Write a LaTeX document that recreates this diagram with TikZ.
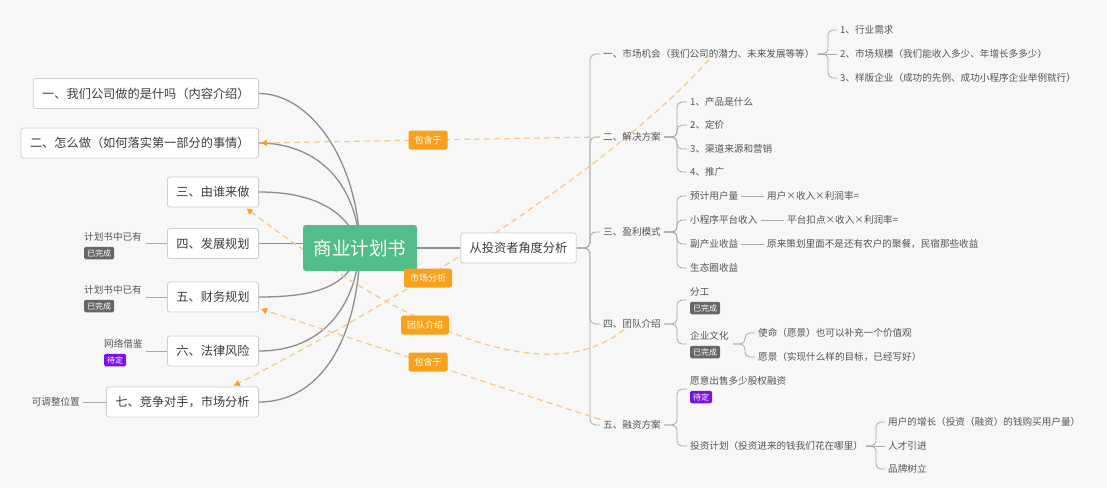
\documentclass[tikz,border=0pt]{standalone}
\usepackage{fontspec}
\setmainfont{Noto Sans CJK SC}
\usetikzlibrary{arrows.meta,calc}
\pgfdeclarelayer{back}
\pgfdeclarelayer{lines}
\pgfsetlayers{back,lines,main}
\definecolor{bgc}{HTML}{F7F7F7}
\definecolor{boxline}{HTML}{CFCFCF}
\definecolor{boxtext}{HTML}{3C3C3C}
\definecolor{mainline}{HTML}{8E8E8E}
\definecolor{subline}{HTML}{A8A8A8}
\definecolor{subtext}{HTML}{555555}
\definecolor{cgreen}{HTML}{52BD89}
\definecolor{corange}{HTML}{F9A11B}
\definecolor{reline}{HTML}{F8C78A}
\definecolor{donec}{HTML}{666666}
\definecolor{pendc}{HTML}{7A12E6}
\tikzset{
  box/.style={draw=boxline, line width=0.8pt, fill=white, rounded corners=2.5pt, text=boxtext,
    font=\fontsize{12.2}{14}\selectfont, minimum height=30pt, inner xsep=9pt, inner ysep=0pt, anchor=east},
  centre/.style={fill=cgreen, rounded corners=3pt, text=white, font=\fontsize{18.5}{20}\selectfont,
    minimum width=114pt, minimum height=46pt},
  item/.style={text=subtext, font=\fontsize{9.6}{11}\selectfont, inner xsep=3pt, inner ysep=1pt, anchor=west},
  tagdone/.style={fill=donec, text=white, font=\fontsize{8}{9}\selectfont, rounded corners=1.5pt,
    inner xsep=3pt, inner ysep=0pt, minimum height=12.5pt, anchor=west},
  tagpend/.style={tagdone, fill=pendc},
  rellabel/.style={fill=corange, text=white, font=\fontsize{9}{10}\selectfont, rounded corners=2.5pt,
    inner xsep=6pt, inner ysep=0pt, minimum height=19pt},
  rel/.style={draw=reline, line width=1.2pt, dash pattern=on 6pt off 4pt,
    -{Triangle[length=6pt,width=6pt,color=corange,fill=corange]}, shorten >=2pt},
  trunk/.style={draw=mainline, line width=1.3pt},
  twig/.style={draw=subline, line width=0.8pt, rounded corners=5pt}
}
\begin{document}
\begin{tikzpicture}[x=1pt,y=-1pt]
\begin{pgfonlayer}{back}
\fill[bgc] (0,0) rectangle (1107,488);
\end{pgfonlayer}
\useasboundingbox (0,0) rectangle (1107,488);

% centre and left boxes
\node[centre] (C) at (360,248) {商业计划书};
\node[box] (b1) at (259,93.5) {一、我们公司做的是什吗（内容介绍）};
\node[box] (b2) at (259,143) {二、怎么做（如何落实第一部分的事情）};
\node[box] (b3) at (259,192) {三、由谁来做};
\node[box] (b4) at (259,243.5) {四、发展规划};
\node[box] (b5) at (259,297) {五、财务规划};
\node[box] (b6) at (259,351) {六、法律风险};
\node[box] (b7) at (259,402) {七、竞争对手，市场分析};

% left notes
\node[item] (n4t) at (81,237) {计划书中已有};
\node[tagdone] (n4g) at (84,253) {已完成};
\coordinate (n4) at (146,243.5);
\node[item] (n5t) at (81,290) {计划书中已有};
\node[tagdone] (n5g) at (84,306) {已完成};
\coordinate (n5) at (146,297);
\node[item] (n6t) at (101,344) {网络借鉴};
\node[tagpend] (n6g) at (104,360) {待定};
\coordinate (n6) at (146,351);
\node[item, anchor=east] (n7) at (83,402) {可调整位置};

% investor branch
\node[box, anchor=center] (I) at (518.5,248) {从投资者角度分析};
\node[item] (m1) at (600,54) {一、市场机会（我们公司的潜力、未来发展等等）};
\node[item] (m2) at (600,137) {二、解决方案};
\node[item] (m3) at (600,232) {三、盈利模式};
\node[item] (m4) at (600,324) {四、团队介绍};
\node[item] (m5) at (600,425) {五、融资方案};

\node[item] (c11) at (837,30) {1、行业需求};
\node[item] (c12) at (837,54) {2、市场规模（我们能收入多少、年增长多多少）};
\node[item] (c13) at (837,78) {3、样版企业（成功的先例、成功小程序企业举例就行）};

\node[item] (c21) at (687,102) {1、产品是什么};
\node[item] (c22) at (687,125) {2、定价};
\node[item] (c23) at (687,149) {3、渠道来源和营销};
\node[item] (c24) at (687,172) {4、推广};

\node[item] (c31) at (687,196) {预计用户量};
\node[item] (c31a) at (764,196) {用户×收入×利润率=};
\node[item] (c32) at (687,220) {小程序平台收入};
\node[item] (c32a) at (784,220) {平台扣点×收入×利润率=};
\node[item] (c33) at (687,244) {副产业收益};
\node[item] (c33a) at (764,244) {原来策划里面不是还有农户的聚餐，民宿那些收益};
\node[item] (c34) at (687,268) {生态圈收益};

\node[item] (c41) at (687,292) {分工};
\node[tagdone] (c41g) at (690,308) {已完成};
\coordinate (f1) at (687,300);
\node[item] (c42) at (687,336) {企业文化};
\node[tagdone] (c42g) at (690,352) {已完成};
\coordinate (f2) at (687,344);
\coordinate (f2o) at (733,344);
\node[item] (c421) at (755,333) {使命（愿景）也可以补充一个价值观};
\node[item] (c422) at (755,357) {愿景（实现什么样的目标，已经写好）};

\node[item] (c51) at (687,381) {愿意出售多少股权融资};
\node[tagpend] (c51g) at (690,397) {待定};
\coordinate (r1) at (687,389);
\node[item] (c52) at (687,446) {投资计划（投资进来的钱我们花在哪里）};
\node[item] (c521) at (885,422) {用户的增长（投资（融资）的钱购买用户量）};
\node[item] (c522) at (885,446) {人才引进};
\node[item] (c523) at (885,469) {品牌树立};

% relationship labels
\node[rellabel] (L1) at (428,140) {包含于};
\node[rellabel] (L2) at (428,278) {市场分析};
\node[rellabel] (L3) at (425,325) {团队介绍};
\node[rellabel] (L4) at (428,362) {包含于};

\begin{pgfonlayer}{lines}
% centre to left boxes
\draw[trunk] (b1.east) .. controls (310,93.5) and (358,160) .. (C.center);
\draw[trunk] (b2.east) .. controls (310,143) and (356,175) .. (C.center);
\draw[trunk] (b3.east) .. controls (320,192) and (350,215) .. (C.center);
\draw[trunk] (b4.east) -- (b4.east -| C.center);
\draw[trunk] (b5.east) .. controls (320,297) and (350,285) .. (C.center);
\draw[trunk] (b6.east) .. controls (320,351) and (355,310) .. (C.center);
\draw[trunk] (b7.east) .. controls (320,402) and (358,340) .. (C.center);
\draw[trunk] (C.center) -- (I.west);
% left notes
\draw[twig] (n4) -- (b4.west);
\draw[twig] (n5) -- (b5.west);
\draw[twig] (n6) -- (b6.west);
\draw[twig] (n7.east) -- (b7.west);
% main bracket
\draw[twig, rounded corners=6pt] (I.east) -- (590,248) |- (m1.west);
\draw[twig, rounded corners=6pt] (I.east) -- (590,248) |- (m2.west);
\draw[twig, rounded corners=6pt] (I.east) -- (590,248) |- (m3.west);
\draw[twig, rounded corners=6pt] (I.east) -- (590,248) |- (m4.west);
\draw[twig, rounded corners=6pt] (I.east) -- (590,248) |- (m5.west);
% m1
\draw[twig] (m1.east) -- (828,54) |- (c11.west);
\draw[twig] (m1.east) -- (c12.west);
\draw[twig] (m1.east) -- (828,54) |- (c13.west);
% m2
\foreach \c in {c21,c22,c23,c24} \draw[twig] (m2.east) -- (677,137) |- (\c.west);
% m3
\foreach \c in {c31,c32,c33,c34} \draw[twig] (m3.east) -- (677,232) |- (\c.west);
\draw[twig] (c31.east) -- (c31a.west);
\draw[twig] (c32.east) -- (c32a.west);
\draw[twig] (c33.east) -- (c33a.west);
% m4
\draw[twig] (m4.east) -- (677,324) |- (f1);
\draw[twig] (m4.east) -- (677,324) |- (f2);
\draw[twig] (f2o) -- (745,344) |- (c421.west);
\draw[twig] (f2o) -- (745,344) |- (c422.west);
% m5
\draw[twig] (m5.east) -- (677,425) |- (r1);
\draw[twig] (m5.east) -- (677,425) |- (c52.west);
\draw[twig] (c52.east) -- (876,446) |- (c521.west);
\draw[twig] (c52.east) -- (c522.west);
\draw[twig] (c52.east) -- (876,446) |- (c523.west);
% relationships
\draw[rel] (m2.west) -- (b2.east);
\draw[rel] (m1.south) .. controls (620,160) and (420,290) .. ($(b7.north east)+(-27,0)$);
\draw[rel] ($(m4.south)+(-8,0)$) .. controls (530,405) and (355,290) .. ($(b3.south east)+(-14,0)$);
\draw[rel] (m5.north west) -- ($(b5.south east)+(0,-4)$);
\end{pgfonlayer}
\end{tikzpicture}
\end{document}
